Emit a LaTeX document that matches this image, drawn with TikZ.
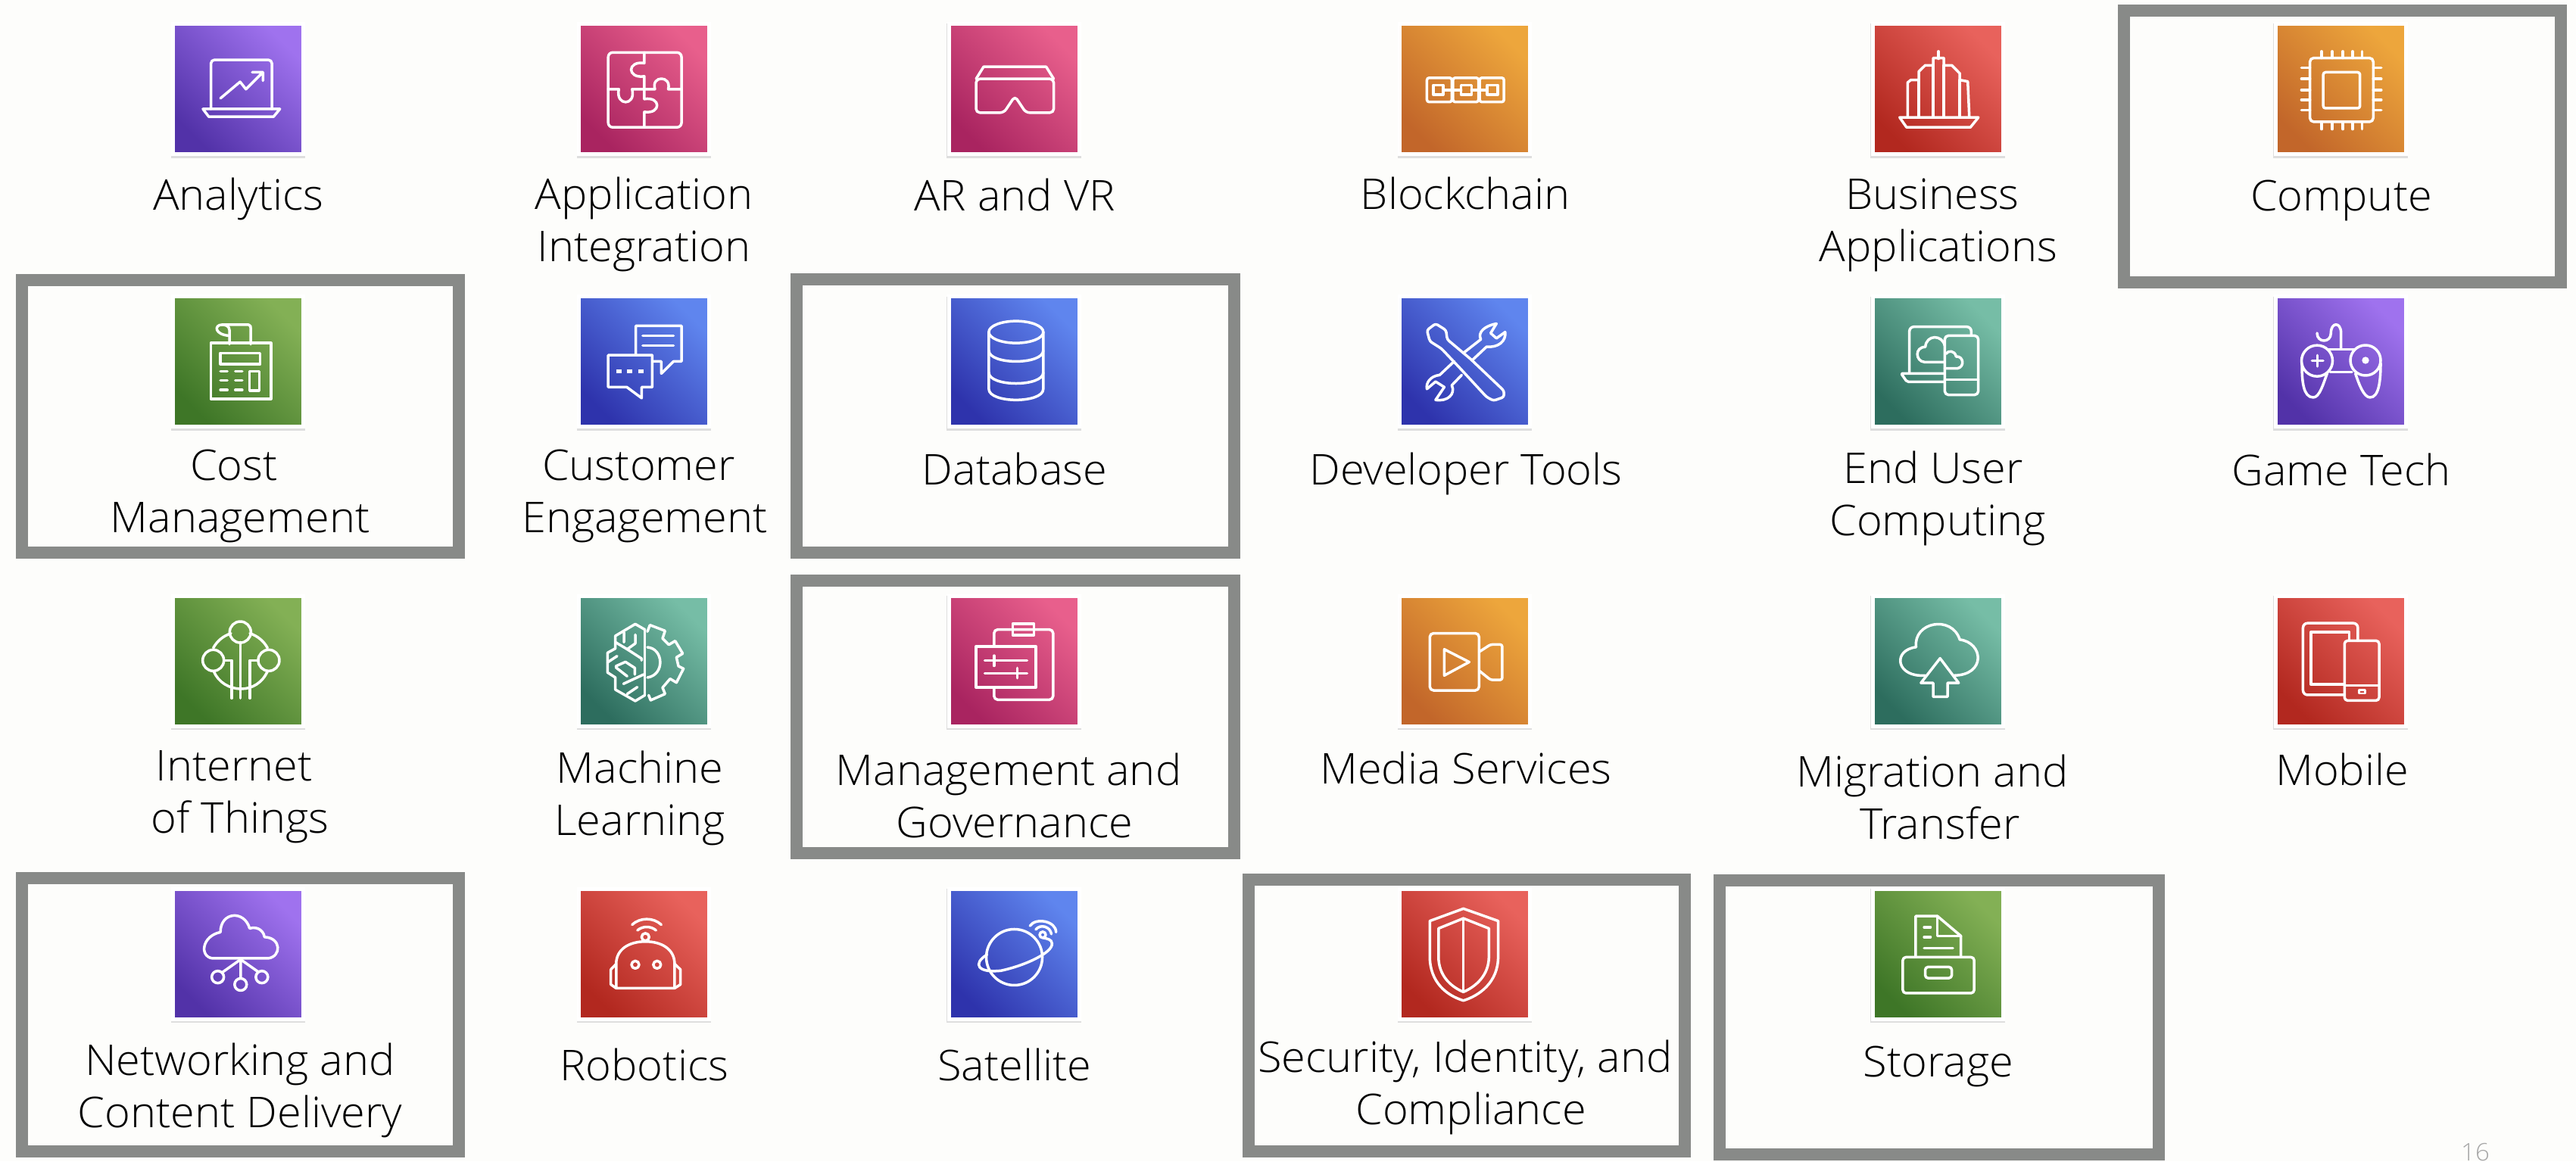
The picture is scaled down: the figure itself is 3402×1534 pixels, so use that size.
\documentclass[tikz,border=0pt]{standalone}
\usepackage{fontspec}
\setmainfont{Open Sans Light}[FakeStretch=1.03]
\usetikzlibrary{shadows}
\definecolor{bgc}{HTML}{FDFDFB}
\definecolor{boxc}{HTML}{888A88}
\definecolor{purA}{HTML}{5232A8}\definecolor{purB}{HTML}{9F72EE}
\definecolor{pnkA}{HTML}{A92460}\definecolor{pnkB}{HTML}{E85F8C}
\definecolor{orgA}{HTML}{C2662A}\definecolor{orgB}{HTML}{EDA63C}
\definecolor{redA}{HTML}{B2281F}\definecolor{redB}{HTML}{E8625C}
\definecolor{grnA}{HTML}{3E7627}\definecolor{grnB}{HTML}{83B055}
\definecolor{bluA}{HTML}{2E33AC}\definecolor{bluB}{HTML}{5F85EE}
\definecolor{tealA}{HTML}{2D6D5E}\definecolor{tealB}{HTML}{76BDA6}
\tikzset{
  tile/.style 2 args={rectangle,inner sep=0pt,minimum size=172pt,draw=white,line width=5pt,
    bottom color=#1,top color=#2,shading angle=-45,
    general shadow={shadow yshift=-2.5pt,shadow scale=1.03,fill=black!13}},
  lab/.style={anchor=base,align=center,inner sep=0pt,text=black,font={\fontsize{56}{69}\selectfont}},
  hibox/.style={draw=boxc,line width=16pt,miter limit=10},
  ic/.style={draw=white,line width=3.5pt,line join=round,line cap=round,fill=none},
  za/.style={shift={(0,0)},x=.7015pt,y=-.4847pt},
  zb/.style={shift={(1100,0)},x=.7653pt,y=-.4847pt},
  zc/.style={shift={(2300,0)},x=.7028pt,y=-.4847pt},
  zd/.style={shift={(0,760)},x=.7015pt,y=-.4936pt},
  ze/.style={shift={(1100,760)},x=.7653pt,y=-.4936pt},
  zf/.style={shift={(2300,760)},x=.7028pt,y=-.4936pt},
  crop/.style 2 args={shift={(#1,#2)},x=.3333pt,y=-.3333pt},
}
\begin{document}
\begin{tikzpicture}[x=1pt,y=-1pt]
\useasboundingbox (0,0) rectangle (3402,1534);
\fill[bgc] (0,0) rectangle (3402,1534);
% highlight boxes
\draw[hibox] (2805,14) rectangle (3381.5,373);
\draw[hibox] (29,370) rectangle (605.5,730);
\draw[hibox] (1052,369) rectangle (1630,730);
\draw[hibox] (1052,767) rectangle (1630,1127);
\draw[hibox] (29,1160) rectangle (605.5,1521);
\draw[hibox] (1649,1162) rectangle (2224.5,1521);
\draw[hibox] (2271,1163) rectangle (2851,1525);
% tiles
\node[tile={purA}{purB}] (tAnalytics) at (314.7,117.5) {};
\node[tile={pnkA}{pnkB}] (tAppInt) at (850.5,117.5) {};
\node[tile={pnkA}{pnkB}] (tARVR) at (1339,117.5) {};
\node[tile={orgA}{orgB}] (tBlock) at (1934.5,117.5) {};
\node[tile={redA}{redB}] (tBiz) at (2559,117.5) {};
\node[tile={orgA}{orgB}] (tCompute) at (3091,117.5) {};
\node[tile={grnA}{grnB}] (tCost) at (314.7,477.5) {};
\node[tile={bluA}{bluB}] (tCust) at (850.5,477.5) {};
\node[tile={bluA}{bluB}] (tDB) at (1339,477.5) {};
\node[tile={bluA}{bluB}] (tDev) at (1934.5,477.5) {};
\node[tile={tealA}{tealB}] (tEUC) at (2559,477.5) {};
\node[tile={purA}{purB}] (tGame) at (3091,477.5) {};
\node[tile={grnA}{grnB}] (tIoT) at (314.7,873) {};
\node[tile={tealA}{tealB}] (tML) at (850.5,873) {};
\node[tile={pnkA}{pnkB}] (tMgmt) at (1339,873) {};
\node[tile={orgA}{orgB}] (tMedia) at (1934.5,873) {};
\node[tile={tealA}{tealB}] (tMig) at (2559,873) {};
\node[tile={redA}{redB}] (tMob) at (3091,873) {};
\node[tile={purA}{purB}] (tNet) at (314.7,1260) {};
\node[tile={redA}{redB}] (tRob) at (850.5,1260) {};
\node[tile={bluA}{bluB}] (tSat) at (1339,1260) {};
\node[tile={redA}{redB}] (tSec) at (1934.5,1260) {};
\node[tile={grnA}{grnB}] (tStor) at (2559,1260) {};
% labels
\node[lab] (lAnalytics) at (315,277) {Analytics};
\node[lab] (lAppInt) at (850.5,345) {Application\\Integration};
\node[lab] (lARVR) at (1340,278) {AR and VR};
\node[lab] (lBlock) at (1935,276) {Blockchain};
\node[lab] (lBiz) at (2560,345) {Business\hspace*{16pt}\\Applications};
\node[lab] (lCompute) at (3092,278) {Compute};
\node[lab] (lCost) at (317,703) {Cost\hspace*{16pt}\\Management};
\node[lab] (lCust) at (851.5,703) {Customer\hspace*{16pt}\\Engagement};
\node[lab] (lDB) at (1340,640) {Database};
\node[lab] (lDev) at (1936,640) {Developer Tools};
\node[lab] (lEUC) at (2559,707) {End User\hspace*{12pt}\\Computing};
\node[lab] (lGame) at (3092,641) {Game Tech};
\node[lab] (lIoT) at (317,1100.6) {Internet\hspace*{16pt}\\of Things};
\node[lab] (lML) at (845,1103) {Machine\\Learning};
\node[lab] (lMgmt) at (1332,1106.5) {Management and\\\hspace*{16pt}Governance};
\node[lab] (lMedia) at (1936,1035.5) {Media Services};
\node[lab] (lMig) at (2552,1108) {Migration and\\\hspace*{20pt}Transfer};
\node[lab] (lMob) at (3093,1037.5) {Mobile};
\node[lab] (lNet) at (317,1489.5) {Networking and\\Content Delivery};
\node[lab] (lRob) at (851,1427) {Robotics};
\node[lab] (lSat) at (1340,1427) {Satellite};
\node[lab] (lSec) at (1935,1485.5) {Security, Identity, and\\\hspace*{15pt}Compliance};
\node[lab] (lStor) at (2560,1422) {Storage};
\node[anchor=base,inner sep=0pt,text=black!35,font={\fontsize{32}{40}\selectfont}] (lPage) at (3269,1533) {16};
% icons (drawn in zoom-crop coordinates)
\begin{scope}[za]
 % analytics
 \draw[ic,rounded corners=5pt] (397,297)--(397,163)--(512,163)--(512,297);
 \draw[ic] (382,297)--(527,297)--(515,318)--(393,318)--cycle;
 \draw[ic] (415,268)--(452,223)--(463,243)--(495,197) (475,197)--(495,197)--(495,220);
 % app integration
 \draw[ic,rounded corners=6pt] (1145,143) rectangle (1283,347);
 \draw[ic] (1213,143)--(1213,172) .. controls (1180,165) and (1180,215) .. (1213,208)--(1213,243);
 \draw[ic] (1213,243)--(1233,243) .. controls (1225,205) and (1265,205) .. (1258,243)--(1283,243);
 \draw[ic] (1145,243)--(1165,243) .. controls (1158,290) and (1198,290) .. (1190,243)--(1213,243);
 \draw[ic] (1213,243)--(1213,270) .. controls (1245,262) and (1245,312) .. (1213,305)--(1213,347);
 % cost management
 \draw[ic] (397,935) rectangle (510,1087);
 \draw[ic] (432,938)--(432,900) .. controls (432,888) and (424,885) .. (418,885)--(468,885) .. controls (472,887) and (472,890) .. (472,895)--(472,938);
 \draw[ic] (418,885) .. controls (403,885) and (403,912) .. (432,915);
 \draw[ic] (415,962) rectangle (490,992);
 \draw[ic] (470,1012) rectangle (488,1065);
 \foreach \yy in {1012,1037,1063} {\draw[ic] (415,\yy)--(428,\yy) (443,\yy)--(456,\yy);}
 % customer engagement
 \draw[ic] (1197,968)--(1197,888)--(1283,888)--(1283,985)--(1268,985)--(1245,1018)--(1245,985)--(1230,985);
 \draw[ic] (1145,968)--(1228,968)--(1228,1055)--(1208,1055)--(1208,1085)--(1180,1055)--(1145,1055)--cycle;
 \draw[ic] (1210,915)--(1268,915) (1210,942)--(1268,942);
 \draw[ic,line width=5pt,line cap=butt] (1160,1012)--(1170,1012) (1180,1012)--(1190,1012) (1202,1012)--(1212,1012);
\end{scope}
\begin{scope}[zb]
 % AR VR
 \draw[ic] (247,215)--(260,182)--(368,182)--(381,215);
 \draw[ic,rounded corners=5pt] (247,215)--(381,215)--(381,307)--(333,307)--(314,262)--(295,307)--(247,307)--cycle;
 % blockchain
 \foreach \xa/\xb in {1025/1068,1070/1114,1116/1158} {\draw[ic,rounded corners=3pt] (\xa,212) rectangle (\xb,278);}
 \foreach \xa/\xb in {1036/1053,1084/1102,1129/1147} {\draw[ic] (\xa,232) rectangle (\xb,258);}
 \draw[ic] (1053,245)--(1084,245) (1102,245)--(1129,245);
 % database
 \draw[ic] (316,905) ellipse[x radius=36pt,y radius=14.5pt];
 \draw[ic] (269,905)--(269,1060) .. controls (269,1100) and (363,1100) .. (363,1060)--(363,905);
 \draw[ic] (269,955) .. controls (269,995) and (363,995) .. (363,955);
 \draw[ic] (269,1015) .. controls (269,1055) and (363,1055) .. (363,1015);
 % developer tools
 \draw[ic,rounded corners=3pt] (1025,900)--(1040,882)--(1058,900)--(1060,925)--(1100,978)--(1158,1065)--(1158,1082)--(1140,1092)--(1128,1082)--(1083,1005)--(1050,950)--(1030,930)--cycle;
 \draw[ic] (1088,962)--(1118,925) .. controls (1112,905) and (1125,888) .. (1145,882)--(1135,908)--(1145,922)--(1160,905) .. controls (1162,930) and (1148,948) .. (1128,945)--(1103,982);
 \draw[ic] (1072,985)--(1047,1022) .. controls (1030,1025) and (1023,1045) .. (1025,1060)--(1040,1040)--(1055,1055)--(1040,1090) .. controls (1060,1095) and (1075,1075) .. (1068,1050)--(1085,1022);
\end{scope}
\begin{scope}[zc]
 % business
 \draw[ic] (370,140)--(370,160);
 \draw[ic] (312,320)--(312,225)--(318,218)--(333,218)--(333,195)--(345,178)--(360,178)--(360,158)--(380,158)--(380,178)--(395,178)--(410,200)--(410,218)--(425,222)--(428,320);
 \draw[ic] (333,218)--(333,320) (360,178)--(360,320) (380,178)--(380,320) (410,218)--(410,320);
 \draw[ic] (297,320)--(445,320)--(430,347)--(310,347)--cycle;
 % compute
 \draw[ic,rounded corners=5pt] (1068,158) rectangle (1187,332);
 \draw[ic,rounded corners=3pt] (1093,197) rectangle (1162,295);
 \foreach \xx in {1090,1110,1130,1148,1166} {\draw[ic] (\xx,140)--(\xx,158) (\xx,332)--(\xx,352);}
 \foreach \yy in {185,215,245,272,300} {\draw[ic] (1052,\yy)--(1068,\yy) (1187,\yy)--(1202,\yy);}
\end{scope}
\begin{scope}[crop={2470}{390}]
 % end user computing
 \draw[ic,rounded corners=6pt] (155,305)--(155,125)--(400,125)--(400,160);
 \draw[ic,rounded corners=2pt] (290,310)--(122,310)--(145,343)--(290,343);
 \draw[ic,rounded corners=5pt] (295,160) rectangle (428,395);
 \draw[ic] (295,335)--(428,335);
 \draw[ic] (295,265)--(215,265) .. controls (178,262) and (175,205) .. (218,205) .. controls (222,155) and (285,155) .. (295,200);
 \draw[ic] (295,290)--(345,290) .. controls (375,285) and (370,240) .. (340,243) .. controls (335,218) and (308,218) .. (300,232);
\end{scope}
\begin{scope}[crop={3000}{390}]
 % game tech
 \draw[ic] (275,212)--(275,150) .. controls (275,105) and (235,105) .. (235,150) .. controls (235,190) and (180,190) .. (180,150);
 \draw[ic] (225,215)--(330,215) (232,305)--(318,305);
 \draw[ic] (180,260) circle[radius=20.5pt];
 \draw[ic] (372,258) circle[radius=20pt];
 \draw[ic] (160,260)--(204,260) (182,238)--(182,282);
 \fill[white] (372,258) circle[radius=4.7pt];
 \draw[ic] (120,275) .. controls (120,340) and (125,405) .. (165,405) .. controls (190,405) and (205,350) .. (220,310);
 \draw[ic] (432,270) .. controls (432,340) and (425,405) .. (390,405) .. controls (365,405) and (345,350) .. (332,310);
\end{scope}
\begin{scope}[crop={225}{785}]
 % IoT
 \draw[ic] (277,150) circle[radius=14pt];
 \draw[ic] (170,262) circle[radius=14pt];
 \draw[ic] (390,262) circle[radius=14pt];
 \draw[ic] (240,155) .. controls (210,165) and (185,185) .. (170,213);
 \draw[ic] (315,155) .. controls (345,165) and (370,185) .. (385,213);
 \draw[ic] (172,305) .. controls (190,350) and (235,375) .. (280,375) .. controls (325,375) and (365,350) .. (385,305);
 \draw[ic] (277,190)--(277,412);
 \draw[ic] (213,262)--(243,262)--(243,412);
 \draw[ic] (345,262)--(315,262)--(315,412);
\end{scope}
\begin{scope}[crop={760}{785}]
 % machine learning
 \draw[ic] (275,140)--(275,400);
 \draw[ic] (275,140)--(237,118)--(158,165)--(158,215)--(127,232)--(127,310)--(158,330)--(158,378)--(237,423)--(275,400);
 \draw[ic] (192,150)--(192,190) (237,160)--(237,195)--(205,218)--(158,190);
 \draw[ic] (205,218)--(262,255)--(262,262);
 \draw[ic] (127,270)--(165,245) (160,285)--(198,268)--(235,292)--(235,318) (160,290)--(205,325);
 \draw[ic] (190,355)--(270,318) (205,395)--(245,368);
 \draw[ic] (285,148)--(295,122)--(355,145)--(345,175)--(370,200)--(395,185)--(425,235)--(400,250)--(408,285)--(428,295)--(400,350)--(375,335)--(345,370)--(355,395)--(298,420)--(290,400);
 \draw[ic] (285,210) .. controls (350,215) and (355,320) .. (285,330);
\end{scope}
\begin{scope}[ze]
 % management
 \draw[ic,rounded corners=5pt] (278,190)--(278,145)--(380,145)--(380,333)--(278,333)--(278,300);
 \draw[ic] (247,190) rectangle (350,300);
 \draw[ic,fill=none] (310,130) rectangle (347,160);
 \draw[ic] (262,228)--(335,228) (278,215)--(278,242) (262,262)--(335,262) (318,248)--(318,275);
 % media
 \draw[ic,rounded corners=5pt] (1030,155) rectangle (1115,308);
 \draw[ic,rounded corners=3pt] (1115,205)--(1135,185)--(1155,185)--(1155,280)--(1135,280)--(1115,255);
 \draw[ic] (1055,198)--(1098,232)--(1055,268)--cycle;
 % satellite
 \draw[ic] (313,1022) circle[radius=37pt];
 \draw[ic] (266,1015) .. controls (240,1040) and (250,1065) .. (290,1058) .. controls (330,1045) and (380,1010) .. (378,985) .. controls (378,975) and (370,972) .. (362,970);
 \draw[ic] (362,962) circle[radius=4pt];
 \draw[ic] (350,948) .. controls (358,932) and (375,940) .. (377,960);
 \draw[ic] (340,938) .. controls (350,915) and (385,925) .. (385,955);
 % security
 \draw[ic] (1088,892)--(1148,925)--(1148,1020) .. controls (1148,1090) and (1115,1125) .. (1088,1138) .. controls (1060,1125) and (1030,1090) .. (1030,1020)--(1030,925)--cycle;
 \draw[ic] (1088,918)--(1132,945)--(1132,1020) .. controls (1132,1070) and (1110,1100) .. (1088,1115) .. controls (1065,1100) and (1045,1070) .. (1045,1020)--(1045,945)--cycle;
 \draw[ic] (1088,918)--(1088,1115);
\end{scope}
\begin{scope}[zf]
 % migration
 \draw[ic] (373,222)--(408,288)--(387,288)--(387,325)--(360,325)--(360,288)--(337,288)--cycle;
 \draw[ic] (345,268)--(335,268) .. controls (290,265) and (285,200) .. (328,192) .. controls (322,125) and (395,105) .. (410,172) .. controls (455,180) and (460,268) .. (398,268);
 % mobile
 \draw[ic,rounded corners=6pt] (1158,175)--(1158,128)--(1055,128)--(1055,320)--(1133,320);
 \draw[ic] (1142,175)--(1142,152)--(1070,152)--(1070,292)--(1133,292);
 \draw[ic,rounded corners=4pt] (1133,175) rectangle (1198,335);
 \draw[ic] (1133,295)--(1198,295);
 \draw[ic,line width=2.5pt] (1160,307) rectangle (1172,316);
 % storage
 \draw[ic] (327,1020)--(327,912)--(368,912)--(412,965)--(412,1020);
 \draw[ic] (368,912)--(368,965)--(412,965);
 \draw[ic] (343,942)--(355,942) (343,968)--(355,968) (343,998)--(397,998);
 \draw[ic,rounded corners=4pt] (303,1022) rectangle (437,1118);
 \draw[ic,rounded corners=4pt] (345,1048) rectangle (395,1078);
\end{scope}
\begin{scope}[zd]
 % networking
 \draw[ic] (400,1025)--(505,1025) .. controls (530,1020) and (530,970) .. (498,968) .. controls (495,945) and (480,940) .. (470,945) .. controls (460,895) and (415,900) .. (415,955) .. controls (380,965) and (375,1020) .. (400,1025);
 \draw[ic] (453,1028)--(453,1078) (453,1028)--(419,1062) (453,1028)--(485,1060);
 \draw[ic] (410,1075) circle[radius=8pt];
 \draw[ic] (453,1095) circle[radius=8pt];
 \draw[ic] (493,1075) circle[radius=8pt];
 % robotics
 \draw[ic] (1190,935) .. controls (1205,915) and (1230,915) .. (1245,935);
 \draw[ic] (1200,950) .. controls (1210,938) and (1225,938) .. (1235,950);
 \draw[ic] (1215,968) circle[radius=5pt];
 \draw[ic] (1160,1105)--(1160,1040) .. controls (1160,1000) and (1185,980) .. (1215,980) .. controls (1245,980) and (1270,1000) .. (1270,1040)--(1270,1105)--cycle;
 \draw[ic] (1196,1042) circle[radius=5pt];
 \draw[ic] (1237,1042) circle[radius=5pt];
 \draw[ic] (1160,1040)--(1150,1055)--(1150,1095)--(1160,1105);
 \draw[ic] (1270,1040)--(1281,1055)--(1281,1095)--(1270,1105);
\end{scope}
\end{tikzpicture}
\end{document}
